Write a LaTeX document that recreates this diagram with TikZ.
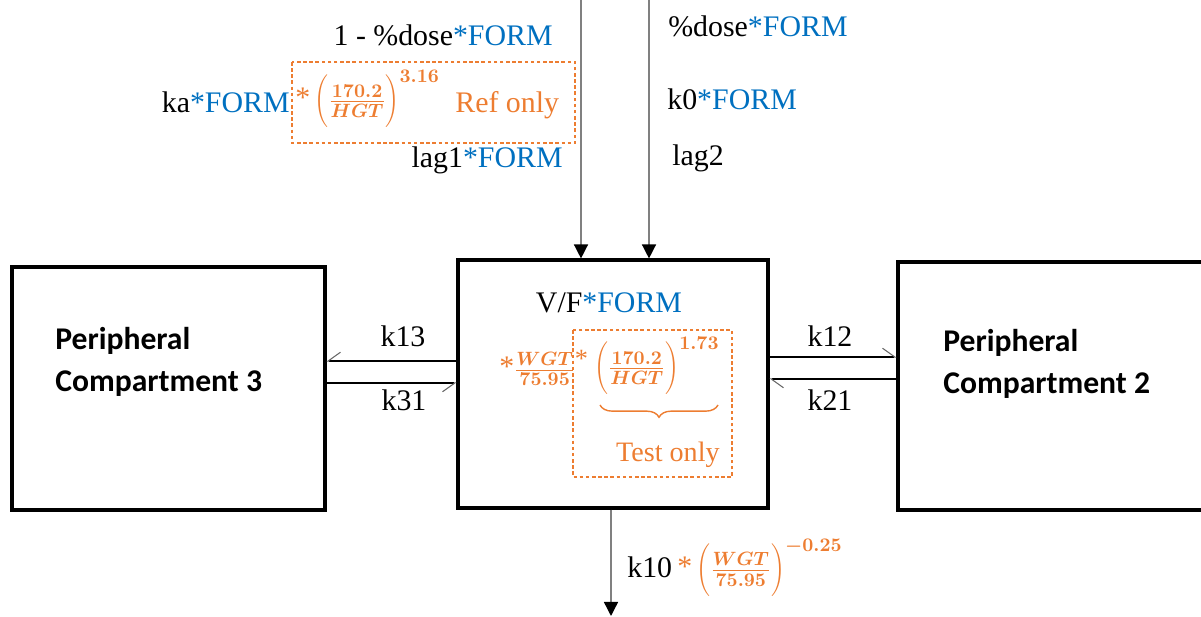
\documentclass[tikz,border=0pt]{standalone}
\usepackage{fontspec}
\setmainfont{Liberation Serif}
\newfontfamily\compfont{Carlito}
\usetikzlibrary{arrows.meta,decorations.pathreplacing}
\definecolor{formblue}{RGB}{0,112,192}
\definecolor{refo}{RGB}{237,125,49}
\newcommand{\form}{\textcolor{formblue}{*FORM}}
\newcommand{\ostar}{{\fontsize{17}{20}\selectfont *}}

\begin{document}
\begin{tikzpicture}[x=0.02cm,y=-0.02cm,
  comp/.style={draw,line width=1.8pt,inner sep=0pt},
  comptext/.style={font=\compfont\bfseries\fontsize{18}{24}\selectfont,inner sep=0pt,anchor=base west},
  lbl/.style={font=\fontsize{17}{20}\selectfont,inner sep=0pt},
  orng/.style={font=\fontsize{15}{18}\selectfont\mathversion{bold},inner sep=0pt,text=refo},
  grp/.style={draw=refo,line width=0.6pt,dash pattern=on 2pt off 1.5pt},
  feed/.style={draw=black!50,line width=0.8pt,-{Triangle[width=8pt,length=8pt,color=black]}},
  flow/.style={line width=1.1pt},
  barb/.style={-{Straight Barb[harpoon,#1,length=7pt,width=10pt,line width=0.6pt,color=black!60]}}]
\useasboundingbox (0,0) rectangle (1201,617);
% compartments
\node[comp,minimum width=6.2cm,minimum height=4.96cm] (cent) at (613,384) {};
\node[comp,minimum width=6.26cm,minimum height=4.86cm] (per3) at (168.5,388.5) {};
\node[comp,minimum width=6.44cm,minimum height=4.96cm] (per2) at (1059,386) {};
\node[comptext] (p3a) at (55,350) {Peripheral};
\node[comptext] (p3b) at (55,392) {Compartment 3};
\node[comptext] (p2a) at (943,352) {Peripheral};
\node[comptext] (p2b) at (943,394) {Compartment 2};
% dosing inputs
\node[lbl,anchor=base east] (dose1) at (553,46) {1 - \%dose\form};
\node[lbl,anchor=base east] (ka) at (290,113) {ka\form};
\node[orng,anchor=west] (kahgt) at (295,99) {\ostar\,$\Bigg(\frac{170.2}{HGT}\Bigg)^{3.16}$};
\node[lbl,text=refo,anchor=base west] (refonly) at (455,113) {Ref only};
\draw[grp] (292,62) rectangle (575,143);
\node[lbl,anchor=base east] (lag1) at (563,168) {lag1\form};
\node[lbl,anchor=base west] (dose2) at (668,37) {\%dose\form};
\node[lbl,anchor=base west] (k0) at (667,110) {k0\form};
\node[lbl,anchor=base west] (lag2) at (672,166) {lag2};
\coordinate (in1) at (581,0);
\coordinate (in2) at (649,0);
\draw[feed] (in1) -- (in1 |- cent.north);
\draw[feed] (in2) -- (in2 |- cent.north);
% central volume
\node[lbl,anchor=base] (vf) at (609,313) {V/F\form};
\node[orng,anchor=west] (wgt) at (499,368) {\ostar$\frac{WGT}{75.95}$\raisebox{5pt}{*}};
\node[orng,anchor=west] (hgt) at (594,366) {$\Bigg(\frac{170.2}{HGT}\Bigg)^{1.73}$};
\draw[refo,line width=0.8pt,decorate,decoration={brace,mirror,amplitude=7pt}] (600,405) -- (718,405);
\node[lbl,text=refo,font=\fontsize{16}{18}\selectfont,anchor=base east] (testonly) at (720,462) {Test only};
\draw[grp] (573,330) rectangle (732,477);
% distribution
\coordinate (r13) at (0,361);
\coordinate (r31) at (0,383);
\coordinate (r12) at (0,357);
\coordinate (r21) at (0,379);
\draw[flow,barb=swap] (cent.west |- r13) -- (per3.east |- r13);
\draw[flow,barb=swap] (per3.east |- r31) -- (cent.west |- r31);
\draw[flow,barb={}] (cent.east |- r12) -- (per2.west |- r12);
\draw[flow,barb={}] (per2.west |- r21) -- (cent.east |- r21);
\node[lbl,anchor=base] (k13) at (403,347) {k13};
\node[lbl,anchor=base] (k31) at (404,411) {k31};
\node[lbl,anchor=base] (k12) at (830,347) {k12};
\node[lbl,anchor=base] (k21) at (830,411) {k21};
% elimination
\coordinate (out) at (611,616);
\draw[feed] (out |- cent.south) -- (out);
\node[lbl,anchor=base west] (k10) at (627,578) {k10};
\node[orng,anchor=west] (k10f) at (k10.east) {\,\ostar\,$\Bigg(\frac{WGT}{75.95}\Bigg)^{-0.25}$};
\end{tikzpicture}
\end{document}
